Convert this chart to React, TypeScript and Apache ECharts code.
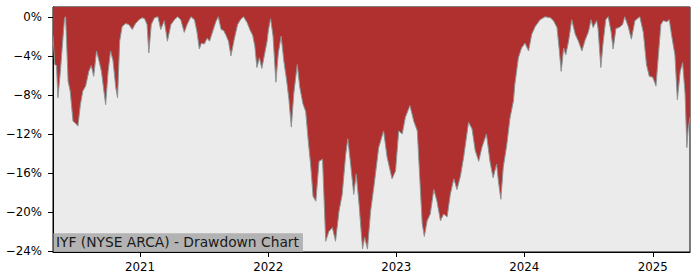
import React, { useEffect, useRef } from "react";
import * as echarts from "echarts";

// Drawdown (%), as [date, value] pairs per year
const dd2020: [string, number][] = [
  ["2020-04-28", -2.0], ["2020-05-03", -4.9], ["2020-05-08", -5.0], ["2020-05-12", -8.3],
  ["2020-05-19", -5.6], ["2020-05-25", -2.8], ["2020-05-31", -0.1], ["2020-06-03", 0],
  ["2020-06-10", -6.6], ["2020-06-16", -7.6], ["2020-06-24", -10.7], ["2020-07-01", -10.9],
  ["2020-07-08", -11.2], ["2020-07-15", -9.0], ["2020-07-22", -7.6], ["2020-07-30", -7.1],
  ["2020-08-08", -5.6], ["2020-08-15", -5.0], ["2020-08-22", -6.1], ["2020-08-30", -3.5],
  ["2020-09-06", -4.5], ["2020-09-13", -5.6], ["2020-09-20", -7.6], ["2020-09-25", -9.0],
  ["2020-10-02", -5.6], ["2020-10-09", -3.5], ["2020-10-16", -4.5], ["2020-10-24", -7.3],
  ["2020-10-29", -8.3], ["2020-11-04", -2.5], ["2020-11-11", -1.0], ["2020-11-21", -0.7],
  ["2020-11-30", -0.8], ["2020-12-10", -1.3], ["2020-12-19", -0.7], ["2020-12-29", -0.3],
];
const dd2021: [string, number][] = [
  ["2021-01-07", -0.1], ["2021-01-14", -0.2], ["2021-01-21", -0.8], ["2021-01-26", -3.7],
  ["2021-02-02", -0.8], ["2021-02-11", -0.1], ["2021-02-21", 0], ["2021-03-01", -1.3],
  ["2021-03-11", -0.4], ["2021-03-20", -2.5], ["2021-03-30", -0.8], ["2021-04-09", -0.3],
  ["2021-04-18", 0], ["2021-04-27", -0.3], ["2021-05-07", -1.6], ["2021-05-15", -0.8],
  ["2021-05-26", 0], ["2021-06-05", -0.3], ["2021-06-12", -1.5], ["2021-06-19", -3.3],
  ["2021-06-25", -2.7], ["2021-07-03", -2.8], ["2021-07-11", -2.2], ["2021-07-18", -2.5],
  ["2021-07-27", -1.5], ["2021-08-05", -0.5], ["2021-08-12", 0], ["2021-08-20", -1.3],
  ["2021-08-27", -1.4], ["2021-09-03", -1.9], ["2021-09-10", -2.5], ["2021-09-17", -4.0],
  ["2021-09-27", -2.2], ["2021-10-06", -0.8], ["2021-10-14", -0.3], ["2021-10-23", 0],
  ["2021-11-02", -0.6], ["2021-11-11", -1.4], ["2021-11-18", -1.9], ["2021-11-24", -3.0],
  ["2021-11-30", -5.2], ["2021-12-07", -4.2], ["2021-12-14", -5.3], ["2021-12-21", -4.0],
  ["2021-12-29", -2.5],
];
const dd2022: [string, number][] = [
  ["2022-01-02", -1.3], ["2022-01-08", -0.2], ["2022-01-15", -2.0], ["2022-01-23", -6.7],
  ["2022-01-30", -3.7], ["2022-02-07", -2.0], ["2022-02-15", -4.6], ["2022-02-23", -6.6],
  ["2022-03-01", -8.4], ["2022-03-08", -11.3], ["2022-03-15", -7.9], ["2022-03-25", -4.9],
  ["2022-04-01", -7.2], ["2022-04-10", -8.9], ["2022-04-18", -9.7], ["2022-04-26", -13.0],
  ["2022-05-02", -15.1], ["2022-05-09", -18.4], ["2022-05-17", -18.9], ["2022-05-26", -14.8],
  ["2022-06-05", -14.6], ["2022-06-14", -23.0], ["2022-06-23", -22.0], ["2022-07-03", -21.6],
  ["2022-07-12", -23.0], ["2022-07-22", -19.9], ["2022-07-31", -18.2], ["2022-08-10", -14.1],
  ["2022-08-16", -12.5], ["2022-08-24", -15.1], ["2022-09-02", -18.2], ["2022-09-09", -16.1],
  ["2022-09-17", -19.2], ["2022-09-27", -23.8], ["2022-10-03", -22.6], ["2022-10-11", -23.8],
  ["2022-10-20", -19.9], ["2022-10-30", -17.2], ["2022-11-12", -13.4], ["2022-11-26", -11.7],
  ["2022-12-06", -14.4], ["2022-12-20", -16.6], ["2022-12-30", -15.8],
];
const dd2023: [string, number][] = [
  ["2023-01-08", -11.7], ["2023-01-18", -12.0], ["2023-01-27", -10.3], ["2023-02-09", -9.1],
  ["2023-02-20", -10.7], ["2023-03-02", -11.7], ["2023-03-09", -16.5], ["2023-03-16", -21.2],
  ["2023-03-22", -22.5], ["2023-03-30", -20.9], ["2023-04-08", -20.2], ["2023-04-18", -17.7],
  ["2023-04-27", -18.9], ["2023-05-07", -20.9], ["2023-05-16", -20.2], ["2023-05-26", -20.5],
  ["2023-06-04", -18.2], ["2023-06-14", -16.6], ["2023-06-23", -17.7], ["2023-07-03", -16.3],
  ["2023-07-12", -14.4], ["2023-07-26", -10.8], ["2023-08-05", -11.5], ["2023-08-14", -13.7],
  ["2023-08-24", -14.8], ["2023-09-02", -13.4], ["2023-09-15", -12.0], ["2023-09-25", -14.8],
  ["2023-10-04", -16.5], ["2023-10-14", -15.1], ["2023-10-19", -16.8], ["2023-10-26", -18.7],
  ["2023-11-02", -15.4], ["2023-11-12", -13.1], ["2023-11-21", -10.4], ["2023-12-01", -8.6],
  ["2023-12-05", -6.9], ["2023-12-15", -4.2], ["2023-12-24", -3.2],
];
const dd2024: [string, number][] = [
  ["2024-01-03", -2.7], ["2024-01-13", -3.5], ["2024-01-22", -1.8], ["2024-02-01", -1.0],
  ["2024-02-15", -0.3], ["2024-02-29", 0], ["2024-03-15", -0.1], ["2024-03-24", -0.4],
  ["2024-04-03", -1.1], ["2024-04-09", -3.2], ["2024-04-15", -5.6], ["2024-04-22", -3.2],
  ["2024-04-28", -3.9], ["2024-05-06", -2.5], ["2024-05-15", -0.3], ["2024-05-25", -1.8],
  ["2024-06-03", -2.5], ["2024-06-13", -3.5], ["2024-06-22", -2.4], ["2024-07-02", -1.5],
  ["2024-07-09", -0.3], ["2024-07-15", -1.1], ["2024-07-25", -0.4], ["2024-07-29", -1.2],
  ["2024-08-06", -5.2], ["2024-08-12", -2.8], ["2024-08-20", -0.3], ["2024-08-27", 0],
  ["2024-09-04", -1.5], ["2024-09-10", -3.3], ["2024-09-18", -1.2], ["2024-09-27", -1.1],
  ["2024-10-07", -0.8], ["2024-10-13", 0], ["2024-10-23", -1.0], ["2024-11-01", -2.3],
  ["2024-11-11", -0.4], ["2024-11-25", 0], ["2024-12-05", -1.6], ["2024-12-14", -4.9],
  ["2024-12-22", -6.1],
];
const dd2025: [string, number][] = [
  ["2025-01-01", -6.2], ["2025-01-10", -7.1], ["2025-01-17", -3.9], ["2025-01-24", -0.8],
  ["2025-01-31", -0.4], ["2025-02-10", -0.5], ["2025-02-17", -0.3], ["2025-02-24", -2.0],
  ["2025-03-05", -3.9], ["2025-03-12", -8.5], ["2025-03-20", -5.6], ["2025-03-27", -4.7],
  ["2025-04-03", -7.9], ["2025-04-08", -13.4], ["2025-04-12", -11.4], ["2025-04-17", -10.3],
];

const yearTicks = [2021, 2022, 2023, 2024, 2025];
const pctTicks = [0, -4, -8, -12, -16, -20, -24];
const titleText = "IYF (NYSE ARCA) - Drawdown Chart";
const startDate = "2020-04-28";
const endDate = "2025-04-17";

const FONT = "DejaVu Sans";

const ts = (s: string) => {
  const [y, m, d] = s.split("-").map(Number);
  return new Date(y, m - 1, d).getTime();
};

export default function App() {
  const ref = useRef<HTMLDivElement>(null);
  useEffect(() => {
    if (!ref.current) return;
    const chart = echarts.init(ref.current, null, { renderer: "svg" });
    const data = [...dd2020, ...dd2021, ...dd2022, ...dd2023, ...dd2024, ...dd2025].map(
      ([d, v]) => [ts(d), v]
    );
    const yearTs = yearTicks.map((y) => new Date(y, 0, 1).getTime());
    chart.setOption({
      animation: false,
      grid: {
        left: 53, right: 10, top: 7, bottom: 28,
        show: true, backgroundColor: "#ebebeb", borderColor: "#000", borderWidth: 1,
        containLabel: false, outerBoundsMode: "none",
      },
      xAxis: {
        type: "value",
        min: ts(startDate),
        max: ts(endDate),
        axisLine: { show: true, onZero: false, lineStyle: { color: "#000", width: 1 } },
        axisTick: { show: true, length: 5, lineStyle: { color: "#000" }, customValues: yearTs },
        axisLabel: {
          customValues: yearTs,
          formatter: (v: number) => String(new Date(v).getFullYear()),
          color: "#000", fontSize: 11.8, fontFamily: FONT, margin: 9,
        },
        splitLine: { show: false },
      },
      yAxis: {
        type: "value", min: -24.1, max: 1.0,
        axisLine: { show: true, onZero: false, lineStyle: { color: "#000", width: 1 } },
        axisTick: { show: true, length: 5, lineStyle: { color: "#000" }, customValues: pctTicks },
        axisLabel: {
          customValues: pctTicks,
          formatter: (v: number) => (v < 0 ? "\u2212" : "") + Math.abs(v) + "%",
          color: "#000", fontSize: 11.8, fontFamily: FONT, margin: 11,
        },
        splitLine: { show: false },
      },
      series: [
        {
          type: "line", data, showSymbol: false, symbol: "none", silent: true,
          lineStyle: { color: "#8e9494", width: 1 },
          areaStyle: { color: "#b03030", opacity: 1, origin: "end" },
        },
      ],
      graphic: [
        {
          type: "rect", z: 100, silent: true,
          shape: { x: 53.5, y: 233.3, width: 249.4, height: 18.4 },
          style: { fill: "#b3b3b3" },
        },
        {
          type: "text", z: 101, silent: true, x: 56, y: 242.3,
          style: {
            text: titleText, fontSize: 13.8, fontFamily: FONT, fill: "#1a1a1a",
            align: "left", verticalAlign: "middle",
          },
        },
      ],
    });
    return () => chart.dispose();
  }, []);
  return (
    <div
      ref={ref}
      style={{ position: "absolute", left: 0, top: 0, width: 700, height: 280 }}
    />
  );
}
